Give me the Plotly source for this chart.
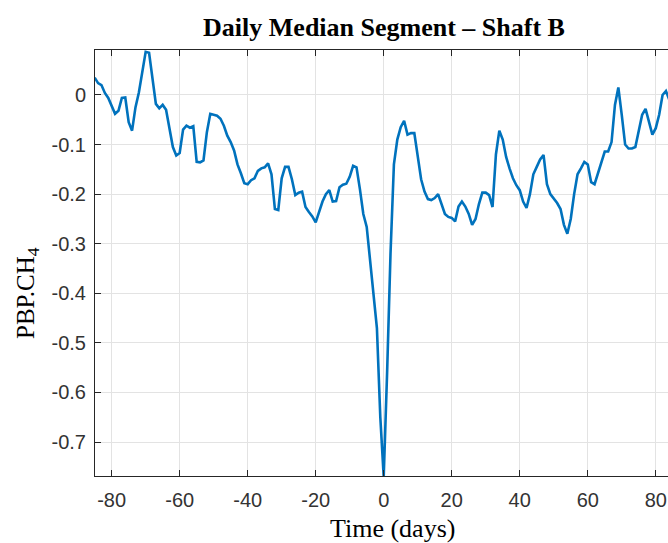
import plotly.graph_objects as go

days = list(range(-85, 86))
values = [
    0.035, 0.024, 0.020, 0.004, -0.006, -0.022, -0.038, -0.032, -0.006, -0.005,
    -0.055, -0.072, -0.025, 0.005, 0.045, 0.087, 0.085, 0.030, -0.018, -0.027,
    -0.020, -0.030, -0.068, -0.105, -0.122, -0.117, -0.070, -0.062, -0.066, -0.063,
    -0.135, -0.136, -0.132, -0.075, -0.038, -0.040, -0.042, -0.048, -0.062, -0.082,
    -0.095, -0.112, -0.140, -0.158, -0.178, -0.180, -0.172, -0.168, -0.153, -0.148,
    -0.146, -0.138, -0.160, -0.230, -0.232, -0.168, -0.145, -0.145, -0.170, -0.202,
    -0.197, -0.195, -0.226, -0.236, -0.245, -0.257, -0.236, -0.215, -0.200, -0.192,
    -0.215, -0.214, -0.186, -0.181, -0.179, -0.165, -0.143, -0.146, -0.190, -0.240,
    -0.266, -0.335, -0.415, -0.470, -0.650, -0.770, -0.560, -0.320, -0.140, -0.090,
    -0.065, -0.052, -0.080, -0.077, -0.077, -0.125, -0.170, -0.195, -0.210, -0.212,
    -0.208, -0.200, -0.222, -0.240, -0.246, -0.248, -0.255, -0.225, -0.215, -0.225,
    -0.240, -0.262, -0.250, -0.220, -0.197, -0.197, -0.202, -0.226, -0.120, -0.072,
    -0.090, -0.125, -0.148, -0.168, -0.182, -0.192, -0.215, -0.228, -0.200, -0.160,
    -0.145, -0.130, -0.121, -0.180, -0.200, -0.208, -0.218, -0.230, -0.262, -0.280,
    -0.250, -0.200, -0.160, -0.148, -0.135, -0.140, -0.176, -0.180, -0.158, -0.135,
    -0.114, -0.114, -0.095, -0.020, 0.015, -0.040, -0.100, -0.108, -0.108, -0.105,
    -0.075, -0.040, -0.028, -0.055, -0.080, -0.067, -0.040, 0.000, 0.008, -0.010,
    -0.025,
]

x_ticks = [-80, -60, -40, -20, 0, 20, 40, 60, 80]
x_tick_labels = ["-80", "-60", "-40", "-20", "0", "20", "40", "60", "80"]
y_ticks = [0, -0.1, -0.2, -0.3, -0.4, -0.5, -0.6, -0.7]
y_tick_labels = ["0", "-0.1", "-0.2", "-0.3", "-0.4", "-0.5", "-0.6", "-0.7"]

title_text = "Daily Median Segment \u2013 Shaft B"
x_title = "Time (days)"
y_title = "PBP.CH<sub>4</sub>"

fig = go.Figure()
fig.add_trace(go.Scatter(x=days, y=values, mode="lines",
                         line=dict(color="#0072BD", width=2.6), showlegend=False))

axis_color = "#262626"
grid_color = "#E3E3E3"
tick_font = dict(family="Liberation Sans", size=20, color="#333333")
fig.update_layout(
    width=668, height=543,
    margin=dict(l=95, r=0, t=50, b=67),
    paper_bgcolor="white", plot_bgcolor="white",
    title=dict(text="<b>" + title_text + "</b>", x=384 / 668, xanchor="center",
               y=1 - 27 / 543, yanchor="middle",
               font=dict(family="Liberation Serif", size=26, color="black")),
    xaxis=dict(range=[-84.9, 83.6], tickvals=x_ticks, ticktext=x_tick_labels,
               showgrid=True, gridcolor=grid_color, gridwidth=1,
               showline=True, linecolor=axis_color, linewidth=1, mirror="ticks",
               ticks="inside", ticklen=6, tickcolor=axis_color,
               tickfont=tick_font, ticklabelstandoff=6,
               zeroline=False),
    yaxis=dict(range=[-0.7685, 0.0907], tickvals=y_ticks, ticktext=y_tick_labels,
               showgrid=True, gridcolor=grid_color, gridwidth=1,
               showline=True, linecolor=axis_color, linewidth=1, mirror=False,
               ticks="inside", ticklen=6, tickcolor=axis_color,
               tickfont=tick_font, ticklabelstandoff=4,
               zeroline=False),
    annotations=[
        dict(text=x_title, xref="paper", yref="paper", x=(392 - 95) / 573, y=-(528 - 476) / 426,
             xanchor="center", yanchor="middle", showarrow=False,
             font=dict(family="Liberation Serif", size=26, color="black")),
        dict(text=y_title, xref="paper", yref="paper", x=-(95 - 27) / 573, y=(476 - 293) / 426,
             xanchor="center", yanchor="middle", showarrow=False, textangle=-90,
             font=dict(family="Liberation Serif", size=25, color="black")),
    ],
)

fig.write_html("out.html")
